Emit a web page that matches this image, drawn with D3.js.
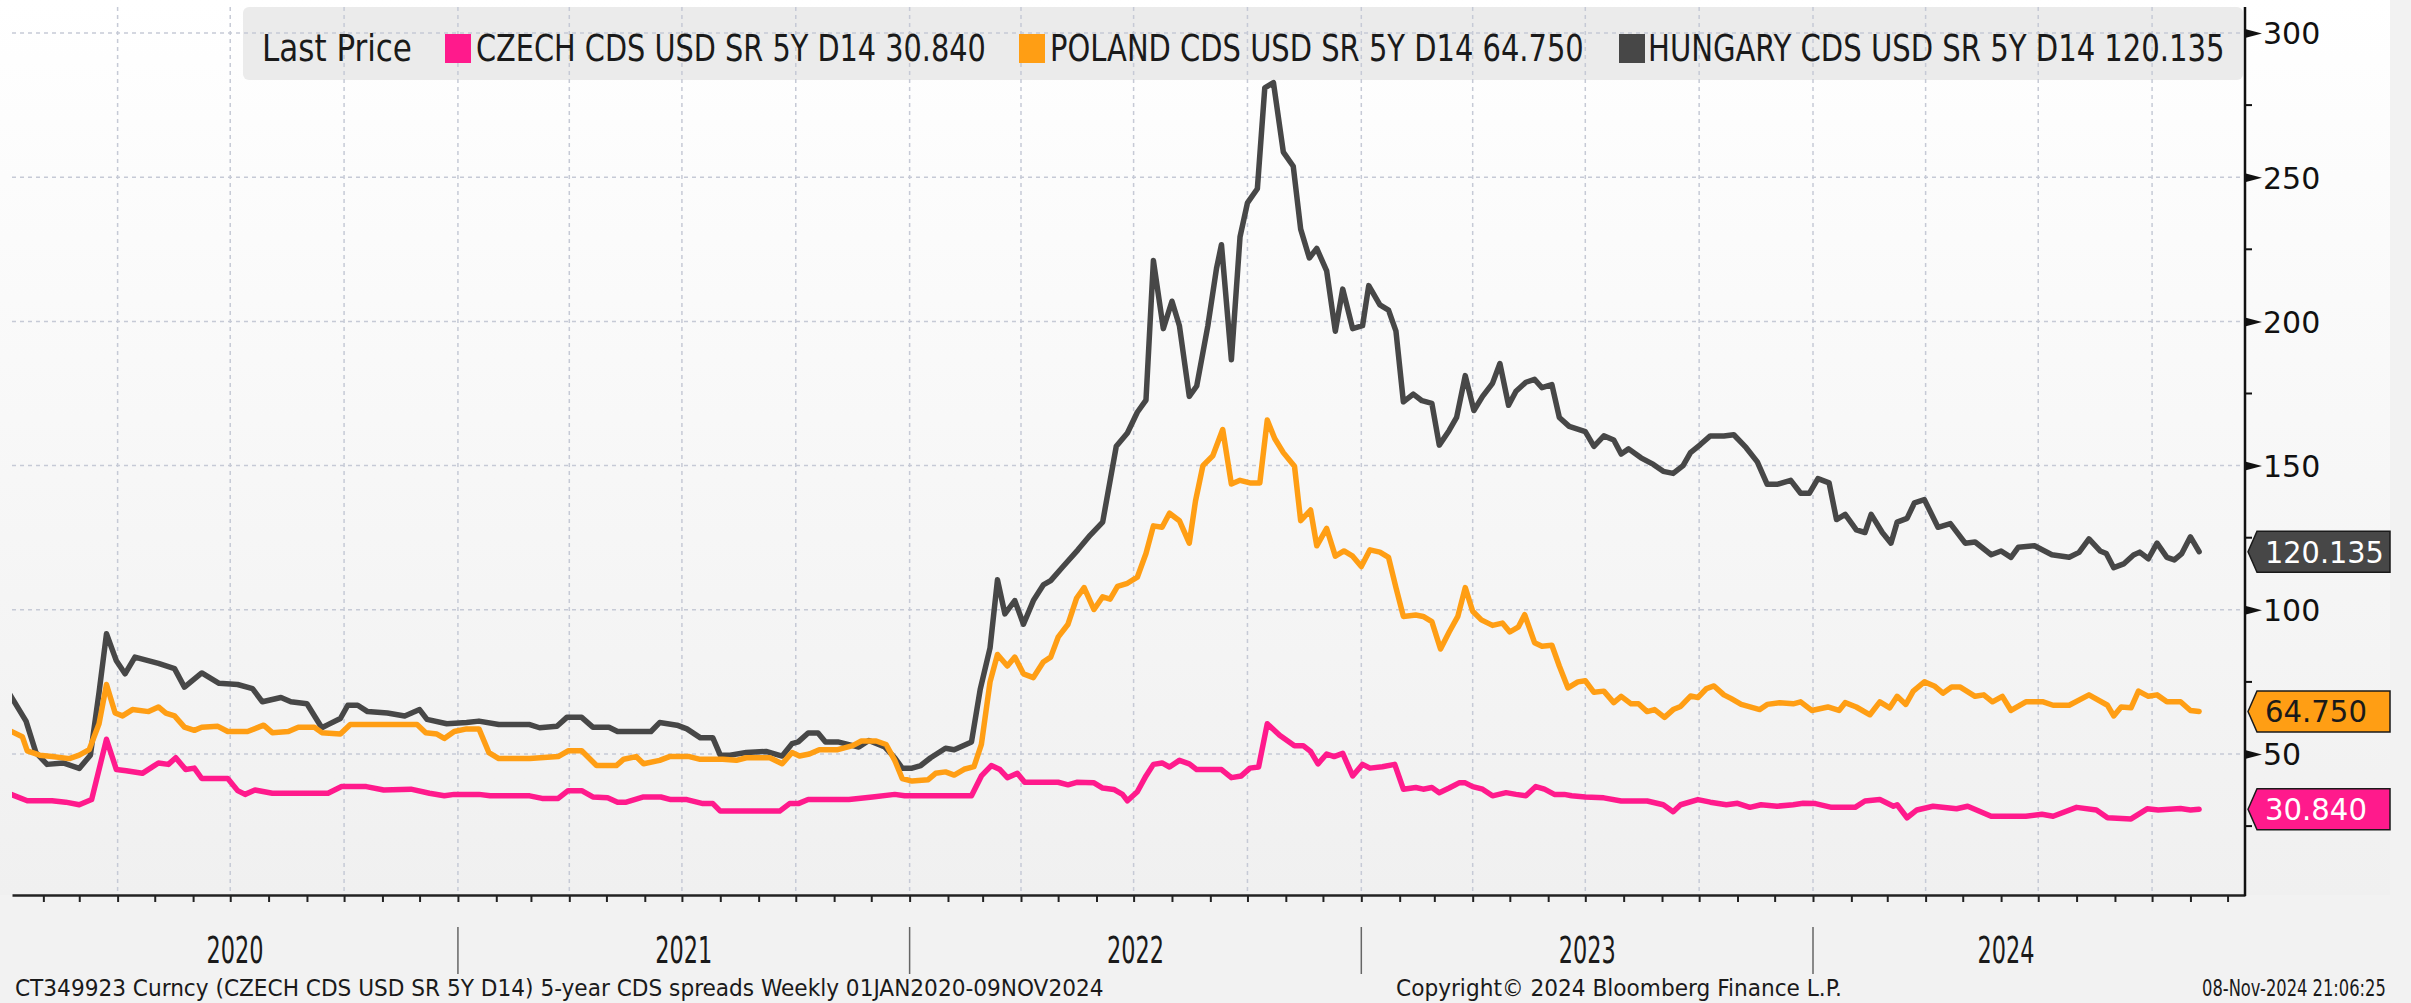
<!DOCTYPE html>
<html><head><meta charset="utf-8">
<script src="https://cdn.jsdelivr.net/npm/d3@7"></script>
<style>html,body{margin:0;padding:0;background:#f2f2f2;}svg{display:block;}</style>
</head><body>
<svg id="chart" width="2411" height="1003"></svg>
<script>
// ---------------- DATA ----------------
const czech = [["2020-01-03",36.5],["2020-01-19",33.8],["2020-02-08",33.8],["2020-02-19",33.3],["2020-03-01",32.4],["2020-03-11",34.2],["2020-03-23",55.1],["2020-03-31",44.6],["2020-04-08",44.2],["2020-04-21",43.3],["2020-05-04",46.9],["2020-05-12",46.4],["2020-05-18",48.7],["2020-05-26",44.6],["2020-06-02",45.1],["2020-06-08",41.5],["2020-06-29",41.5],["2020-07-07",37.3],["2020-07-13",36],["2020-07-21",37.5],["2020-08-04",36.4],["2020-09-18",36.4],["2020-09-29",38.7],["2020-10-19",38.7],["2020-11-02",37.5],["2020-11-24",37.8],["2020-12-09",36.4],["2020-12-21",35.5],["2020-12-29",36],["2021-01-18",36],["2021-01-27",35.5],["2021-02-28",35.5],["2021-03-10",34.6],["2021-03-23",34.6],["2021-03-31",37.3],["2021-04-11",37.3],["2021-04-20",35.1],["2021-05-02",34.8],["2021-05-10",33.3],["2021-05-17",33.3],["2021-05-31",35.1],["2021-06-14",35.1],["2021-06-22",34.2],["2021-07-05",34.2],["2021-07-18",32.8],["2021-07-26",32.8],["2021-08-01",30.2],["2021-09-18",30.2],["2021-09-26",32.8],["2021-10-03",32.8],["2021-10-11",34.2],["2021-11-13",34.2],["2021-12-02",35.1],["2021-12-20",36],["2021-12-28",35.5],["2022-02-20",35.5],["2022-02-28",42.4],["2022-03-08",46],["2022-03-15",44.6],["2022-03-21",41.8],["2022-03-29",43.3],["2022-04-04",40.2],["2022-05-01",40.2],["2022-05-09",39.3],["2022-05-16",40.2],["2022-05-30",40],["2022-06-06",38.2],["2022-06-15",37.7],["2022-06-22",36],["2022-06-26",33.8],["2022-07-04",36.9],["2022-07-11",42.4],["2022-07-17",46.4],["2022-07-24",46.9],["2022-07-30",45.5],["2022-08-07",47.8],["2022-08-15",46.6],["2022-08-21",44.6],["2022-09-10",44.6],["2022-09-18",41.8],["2022-09-26",42.4],["2022-10-03",45.1],["2022-10-10",45.5],["2022-10-17",60.5],["2022-10-27",56.5],["2022-11-08",52.9],["2022-11-15",52.9],["2022-11-21",50.9],["2022-11-27",46.6],["2022-12-04",50],["2022-12-10",49.1],["2022-12-17",50.2],["2022-12-25",42.4],["2023-01-02",46.4],["2023-01-08",45.1],["2023-01-18",45.6],["2023-01-28",46.4],["2023-02-04",37.8],["2023-02-14",38.4],["2023-02-20",37.8],["2023-02-27",38.4],["2023-03-05",36.6],["2023-03-13",38.2],["2023-03-21",40],["2023-03-26",40],["2023-04-01",38.7],["2023-04-09",37.8],["2023-04-17",35.5],["2023-04-28",36.6],["2023-05-06",36],["2023-05-14",35.5],["2023-05-22",38.7],["2023-05-29",37.8],["2023-06-06",36],["2023-06-14",36],["2023-06-20",35.5],["2023-07-01",35.1],["2023-07-16",34.8],["2023-07-30",33.7],["2023-08-20",33.7],["2023-09-02",32.4],["2023-09-10",30],["2023-09-16",32.4],["2023-09-30",34.2],["2023-10-10",33.3],["2023-10-23",32.4],["2023-11-01",32.9],["2023-11-11",31.5],["2023-11-20",32.4],["2023-12-03",31.9],["2023-12-16",32.4],["2023-12-24",32.9],["2024-01-03",32.8],["2024-01-16",31.5],["2024-02-04",31.5],["2024-02-12",33.7],["2024-02-24",34.2],["2024-03-06",31.9],["2024-03-09",32.4],["2024-03-17",27.9],["2024-03-25",30.6],["2024-04-07",31.9],["2024-04-26",31],["2024-05-05",31.9],["2024-05-24",28.4],["2024-06-21",28.4],["2024-07-04",29.1],["2024-07-13",28.4],["2024-08-01",31.5],["2024-08-17",30.6],["2024-08-26",27.9],["2024-09-14",27.5],["2024-09-27",31],["2024-10-06",30.6],["2024-10-24",31.1],["2024-11-01",30.6],["2024-11-08",30.84]];

const poland = [["2020-01-03",58.5],["2020-01-15",56],["2020-01-19",51.1],["2020-01-29",49.6],["2020-02-08",49.1],["2020-02-22",48.4],["2020-03-01",49.6],["2020-03-09",51.5],["2020-03-17",60.5],["2020-03-23",74.1],["2020-03-30",64.2],["2020-04-05",63.2],["2020-04-13",65.4],["2020-04-26",64.7],["2020-05-04",66.3],["2020-05-10",64.2],["2020-05-17",63.2],["2020-05-25",59.3],["2020-06-02",58.2],["2020-06-08",59.3],["2020-06-21",59.6],["2020-06-29",57.8],["2020-07-15",57.8],["2020-07-28",60],["2020-08-04",57.4],["2020-08-17",57.8],["2020-08-25",59.3],["2020-09-07",59.3],["2020-09-13",57.4],["2020-09-28",56.9],["2020-10-06",60.2],["2020-11-29",60.2],["2020-12-06",57.4],["2020-12-15",56.9],["2020-12-21",55.4],["2020-12-29",57.8],["2021-01-08",58.7],["2021-01-18",58.7],["2021-01-26",50.5],["2021-02-03",48.4],["2021-02-28",48.4],["2021-03-23",49.1],["2021-03-31",51.1],["2021-04-11",51.1],["2021-04-23",46],["2021-05-09",46],["2021-05-15",48.2],["2021-05-25",49.1],["2021-05-31",46.6],["2021-06-13",47.8],["2021-06-21",49.1],["2021-07-07",49.1],["2021-07-15",48.2],["2021-08-03",48.2],["2021-08-14",47.8],["2021-08-22",48.7],["2021-09-10",48.7],["2021-09-20",46.6],["2021-09-28",50.5],["2021-10-04",49.3],["2021-10-12",50],["2021-10-20",51.5],["2021-11-04",51.5],["2021-11-16",52.9],["2021-11-23",54.5],["2021-12-05",54.5],["2021-12-13",53.3],["2021-12-20",47.8],["2021-12-26",41.5],["2022-01-03",40.6],["2022-01-16",41.1],["2022-01-22",43.3],["2022-01-30",43.8],["2022-02-06",42.7],["2022-02-14",44.7],["2022-02-22",45.6],["2022-02-28",53.3],["2022-03-07",75],["2022-03-13",84.5],["2022-03-21",80.5],["2022-03-27",83.6],["2022-04-03",77.8],["2022-04-11",76.5],["2022-04-19",81.9],["2022-04-25",83.6],["2022-05-01",90.5],["2022-05-09",95],["2022-05-16",104.1],["2022-05-22",107.7],["2022-05-30",100.1],["2022-06-06",104.5],["2022-06-12",103.7],["2022-06-18",108.1],["2022-06-26",109.2],["2022-07-04",111.3],["2022-07-11",119.5],["2022-07-17",129.1],["2022-07-24",128.6],["2022-07-30",133.5],["2022-08-07",130.9],["2022-08-15",123.1],["2022-08-20",137.7],["2022-08-26",150],["2022-09-03",153.4],["2022-09-11",162.5],["2022-09-18",143.6],["2022-09-25",144.9],["2022-10-03",144],["2022-10-11",144],["2022-10-17",165.8],["2022-10-23",159.4],["2022-10-30",154.5],["2022-11-08",149.8],["2022-11-13",130.9],["2022-11-21",134.6],["2022-11-26",122.2],["2022-12-04",128.2],["2022-12-11",118.6],["2022-12-18",120.4],["2022-12-25",118.6],["2023-01-01",115],["2023-01-08",120.8],["2023-01-16",120],["2023-01-23",118.2],["2023-01-29",107.7],["2023-02-04",97.7],["2023-02-14",98.2],["2023-02-20",97.7],["2023-02-27",95.9],["2023-03-06",86.4],["2023-03-13",92.3],["2023-03-20",97.7],["2023-03-26",107.7],["2023-04-01",99.5],["2023-04-08",96.5],["2023-04-17",94.6],["2023-04-25",95.4],["2023-05-01",92.3],["2023-05-08",94.1],["2023-05-13",98.3],["2023-05-21",88.6],["2023-05-27",87.4],["2023-06-04",87.7],["2023-06-10",80.5],["2023-06-17",72.9],["2023-06-25",75],["2023-07-01",75.4],["2023-07-08",71.4],["2023-07-16",71.8],["2023-07-24",67.8],["2023-07-30",70],["2023-08-07",67.4],["2023-08-13",67.4],["2023-08-20",64.7],["2023-08-26",65.4],["2023-09-03",62.7],["2023-09-10",65.4],["2023-09-16",66.5],["2023-09-24",70.1],["2023-09-30",69.6],["2023-10-07",72.7],["2023-10-13",73.6],["2023-10-21",70.5],["2023-10-27",69.2],["2023-11-04",67.2],["2023-11-19",65.4],["2023-11-25",67.2],["2023-12-05",67.8],["2023-12-16",67.4],["2023-12-22",68.1],["2023-12-31",65.1],["2024-01-13",66.3],["2024-01-22",65.1],["2024-01-27",67.8],["2024-02-05",66.3],["2024-02-16",63.6],["2024-02-24",68.1],["2024-03-03",66],["2024-03-09",70],["2024-03-16",67.2],["2024-03-22",71.8],["2024-03-31",75],["2024-04-08",73.6],["2024-04-15",71.1],["2024-04-22",73.2],["2024-04-29",73.2],["2024-05-11",70],["2024-05-18",70.5],["2024-05-25",68.1],["2024-06-02",70],["2024-06-09",65.1],["2024-06-21",68.1],["2024-07-05",68.1],["2024-07-13",66.9],["2024-07-26",66.9],["2024-08-11",70.5],["2024-08-26",66.9],["2024-08-31",63.2],["2024-09-06",66.3],["2024-09-14",66],["2024-09-20",71.8],["2024-09-28",70],["2024-10-05",70.5],["2024-10-13",68.1],["2024-10-24",68.1],["2024-11-01",65.1],["2024-11-08",64.75]];

const hungary = [["2020-01-03",72],["2020-01-18",61.4],["2020-01-26",50.5],["2020-02-04",46.4],["2020-02-17",46.9],["2020-03-01",45],["2020-03-10",49.6],["2020-03-17",71.4],["2020-03-23",91.7],["2020-03-31",82.3],["2020-04-07",77.8],["2020-04-15",83.6],["2020-05-04",81.4],["2020-05-17",79.6],["2020-05-25",73.2],["2020-06-08",78.1],["2020-06-22",74.5],["2020-07-07",74.1],["2020-07-19",72.7],["2020-07-27",68.1],["2020-08-11",69.6],["2020-08-19",68.1],["2020-09-01",67.4],["2020-09-13",59.1],["2020-09-18",60.2],["2020-09-28",62.3],["2020-10-04",66.9],["2020-10-12",66.9],["2020-10-20",64.7],["2020-11-05",64.2],["2020-11-19",63.2],["2020-12-01",65.4],["2020-12-07",62],["2020-12-23",60.5],["2021-01-08",60.9],["2021-01-18",61.4],["2021-02-03",60.2],["2021-02-28",60.2],["2021-03-08",59.1],["2021-03-22",59.6],["2021-03-30",62.7],["2021-04-11",62.7],["2021-04-20",59.3],["2021-05-03",59.3],["2021-05-10",57.8],["2021-06-06",57.8],["2021-06-13",60.9],["2021-06-27",60],["2021-07-05",58.7],["2021-07-16",55.6],["2021-07-26",55.6],["2021-08-01",49.6],["2021-08-09",49.6],["2021-08-22",50.5],["2021-09-07",50.9],["2021-09-20",49.3],["2021-09-28",53.6],["2021-10-03",54.2],["2021-10-11",57.3],["2021-10-19",57.3],["2021-10-25",54.2],["2021-11-04",54.2],["2021-11-21",52.4],["2021-11-29",54.7],["2021-12-12",52.4],["2021-12-20",48.7],["2021-12-26",45.1],["2022-01-03",45.1],["2022-01-10",46],["2022-01-18",48.7],["2022-01-30",52],["2022-02-06",51.5],["2022-02-20",54.2],["2022-02-27",72.3],["2022-03-07",86.8],["2022-03-13",110.4],["2022-03-19",98.6],["2022-03-27",103.2],["2022-04-03",95],["2022-04-11",103.2],["2022-04-19",108.6],["2022-04-25",110.1],["2022-05-05",115],["2022-05-17",120.8],["2022-05-27",125.9],["2022-06-06",130.4],["2022-06-17",156.7],["2022-06-26",161.3],["2022-07-04",168.5],["2022-07-11",172.7],["2022-07-17",221.1],["2022-07-25",197.5],["2022-08-01",207],["2022-08-07",198.5],["2022-08-15",174],["2022-08-21",177.6],["2022-08-30",198.5],["2022-09-06",218.4],["2022-09-10",226.6],["2022-09-18",186.7],["2022-09-25",229.3],["2022-10-01",241.1],["2022-10-09",246],["2022-10-15",281],["2022-10-22",282.8],["2022-10-30",258.7],["2022-11-07",253.8],["2022-11-13",232],["2022-11-20",222],["2022-11-26",225.3],["2022-12-04",217.5],["2022-12-11",196.6],["2022-12-17",211.2],["2022-12-25",197.5],["2023-01-02",198.5],["2023-01-07",212.4],["2023-01-16",205.7],["2023-01-23",203.9],["2023-01-29",196.6],["2023-02-04",172.1],["2023-02-12",174.8],["2023-02-19",172.5],["2023-02-27",171.6],["2023-03-05",157.1],["2023-03-13",162.2],["2023-03-19",166.7],["2023-03-26",181.2],["2023-04-02",169.1],["2023-04-09",174],["2023-04-17",178.5],["2023-04-23",185.4],["2023-04-30",170.9],["2023-05-06",175.8],["2023-05-14",178.9],["2023-05-21",179.9],["2023-05-27",177],["2023-06-04",178.1],["2023-06-10",166.7],["2023-06-18",163.6],["2023-07-01",161.8],["2023-07-08",156.7],["2023-07-16",160.3],["2023-07-24",158.9],["2023-07-30",154],["2023-08-05",155.8],["2023-08-15",152.7],["2023-08-25",150.4],["2023-09-02",148],["2023-09-10",147.3],["2023-09-18",150],["2023-09-24",154.5],["2023-10-02",157.3],["2023-10-10",160.3],["2023-10-21",160.3],["2023-10-29",160.7],["2023-11-08",156.2],["2023-11-17",151.3],["2023-11-25",143.5],["2023-12-03",143.5],["2023-12-14",144.9],["2023-12-22",140.4],["2023-12-29",140.4],["2024-01-05",145.5],["2024-01-14",144],["2024-01-20",131.3],["2024-01-27",133.1],["2024-02-05",127.7],["2024-02-12",126.8],["2024-02-17",133.1],["2024-02-26",126.8],["2024-03-04",123.1],["2024-03-09",130.4],["2024-03-17",131.7],["2024-03-23",137.1],["2024-03-31",138.2],["2024-04-11",128.6],["2024-04-21",129.9],["2024-05-03",123.1],["2024-05-11",123.5],["2024-05-24",119.1],["2024-06-01",120.4],["2024-06-09",118.2],["2024-06-15",121.7],["2024-06-28",122.2],["2024-07-12",119.1],["2024-07-26",118.2],["2024-08-03",119.9],["2024-08-11",124.6],["2024-08-20",120.4],["2024-08-25",119.5],["2024-08-31",114.6],["2024-09-08",115.9],["2024-09-16",119],["2024-09-21",120],["2024-09-28",117.7],["2024-10-05",123.1],["2024-10-13",118.2],["2024-10-19",117.3],["2024-10-25",119.5],["2024-11-01",125.3],["2024-11-08",120.135]];

const seriesNames = ["CZECH CDS USD SR 5Y D14", "POLAND CDS USD SR 5Y D14", "HUNGARY CDS USD SR 5Y D14"];
const lastLabels = ["30.840", "64.750", "120.135"];
const legendTitle = "Last Price";
const yTicks = [50, 100, 150, 200, 250, 300];
const yMinorTicks = [25, 75, 125, 175, 225, 275];
const yearLabels = ["2020", "2021", "2022", "2023", "2024"];
const footerLeft = "CT349923 Curncy (CZECH CDS USD SR 5Y D14) 5-year CDS spreads  Weekly 01JAN2020-09NOV2024";
const footerMid = "Copyright\u00A9 2024 Bloomberg Finance L.P.";
const footerRight = "08-Nov-2024 21:06:25";

// ---------------- STYLE ----------------
const colors = ["#ff1a8c", "#ff9e14", "#474747"];
const labelText = ["#ffffff", "#1a1a1a", "#ffffff"];
const condFont = "'Liberation Sans Narrow','DejaVu Sans Condensed','Liberation Sans',sans-serif";
const axFont = "'DejaVu Sans','Liberation Sans',sans-serif";
const P = {left: 12, right: 2245, top: 7, bottom: 895};

const svg = d3.select("#chart");
const parse = d3.utcParse("%Y-%m-%d");

const xBase = d3.scaleUtc().domain([parse("2020-01-01"), parse("2024-01-01")]).range([5, 1813]);
const x = xBase.copy().domain([xBase.invert(P.left), xBase.invert(P.right)]).range([P.left, P.right]);
const y = d3.scaleLinear().domain([0, 300]).range([898.2, 33]);

// text helper: draws text, then squeezes it horizontally to a target width
function fitText(g, str, x0, yb, width, size, font, fill, anchor) {
  const t = g.append("text").attr("font-family", font).attr("font-size", size).attr("fill", fill).text(str);
  const nat = t.node().getComputedTextLength();
  const k = width / nat;
  const xl = anchor === "middle" ? x0 - width / 2 : x0;
  t.attr("transform", `translate(${xl},${yb}) scale(${k},1)`);
  return t;
}

const defs = svg.append("defs");
const grad = defs.append("linearGradient").attr("id", "bg").attr("x1", 0).attr("y1", 0).attr("x2", 0).attr("y2", 1);
grad.append("stop").attr("offset", "0%").attr("stop-color", "#ffffff");
grad.append("stop").attr("offset", "100%").attr("stop-color", "#f0f0f0");
defs.append("clipPath").attr("id", "clip").append("rect")
  .attr("x", P.left).attr("y", P.top).attr("width", P.right - P.left).attr("height", P.bottom - P.top);

svg.append("rect").attr("width", 2411).attr("height", 1003).attr("fill", "#f2f2f2");
svg.append("rect").attr("x", 0).attr("y", 0).attr("width", 2390).attr("height", P.bottom).attr("fill", "url(#bg)");

// legend box (under gridlines)
svg.append("rect").attr("x", 243).attr("y", 7).attr("width", 2000).attr("height", 73).attr("rx", 6)
  .attr("fill", "#ebebeb");

// gridlines
const grid = svg.append("g").attr("stroke", "#c6cad6").attr("stroke-width", 1.5).attr("stroke-dasharray", "4,4");
grid.selectAll(".h").data(yTicks).join("line")
  .attr("x1", P.left).attr("x2", P.right).attr("y1", d => y(d)).attr("y2", d => y(d));
grid.selectAll(".v").data(d3.utcMonth.every(3).range(x.domain()[0], x.domain()[1])).join("line")
  .attr("x1", d => x(d)).attr("x2", d => x(d)).attr("y1", P.top).attr("y2", P.bottom);

// lines
const line = d3.line().x(d => x(parse(d[0]))).y(d => y(d[1])).curve(d3.curveLinear);
const lg = svg.append("g").attr("clip-path", "url(#clip)");
[[hungary, 2], [poland, 1], [czech, 0]].forEach(([data, i]) => {
  lg.append("path").datum(data).attr("d", line).attr("fill", "none")
    .attr("stroke", colors[i]).attr("stroke-width", 5.5)
    .attr("stroke-linejoin", "round").attr("stroke-linecap", "round");
});

// legend text
const legend = svg.append("g");
fitText(legend, legendTitle, 262, 61, 150, 38, condFont, "#1a1a1a");
const legItems = [{sx: 445, tx: 476, w: 510}, {sx: 1019, tx: 1050, w: 534}, {sx: 1619, tx: 1648, w: 577}];
legItems.forEach((it, i) => {
  legend.append("rect").attr("x", it.sx).attr("y", 34).attr("width", 26).attr("height", 29).attr("fill", colors[i]);
  fitText(legend, seriesNames[i] + " " + lastLabels[i], it.tx, 61, it.w, 38, condFont, "#1a1a1a");
});

// x axis
const xAxis = d3.axisBottom(x).ticks(d3.utcMonth.every(1)).tickSize(7).tickSizeOuter(0).tickFormat("");
const xg = svg.append("g").attr("transform", `translate(0,${P.bottom})`).call(xAxis);
xg.select(".domain").attr("stroke", "#222").attr("stroke-width", 2.5);
xg.selectAll(".tick line").attr("stroke", "#222").attr("stroke-width", 2);

// y axis
const yAxis = d3.axisRight(y).tickValues(yTicks).tickSize(0).tickPadding(18).tickSizeOuter(0).tickFormat(d3.format("d"));
const yg = svg.append("g").attr("transform", `translate(${P.right},0)`).call(yAxis);
yg.select(".domain").remove();
yg.selectAll(".tick text").attr("font-family", axFont).attr("font-size", 30).attr("fill", "#111").attr("dy", "0.36em");
yg.selectAll(".tick").append("path").attr("d", "M0,-4.5L17,0L0,4.5Z").attr("fill", "#111");
svg.append("line").attr("x1", P.right).attr("x2", P.right).attr("y1", P.top).attr("y2", P.bottom + 1)
  .attr("stroke", "#111").attr("stroke-width", 2.5);
svg.append("g").selectAll("line").data(yMinorTicks).join("line")
  .attr("x1", P.right).attr("x2", P.right + 7).attr("y1", d => y(d)).attr("y2", d => y(d))
  .attr("stroke", "#111").attr("stroke-width", 2);

// last value tags
const lastVals = [czech, poland, hungary].map(s => s[s.length - 1][1]);
const tags = svg.append("g");
lastVals.forEach((v, i) => {
  const cy = y(v);
  tags.append("path")
    .attr("d", `M${P.right + 3},${cy}L${P.right + 12},${cy - 20.5}L2390,${cy - 20.5}L2390,${cy + 20.5}L${P.right + 12},${cy + 20.5}Z`)
    .attr("fill", colors[i]).attr("stroke", "#1a1a1a").attr("stroke-width", 1.5);
  fitText(tags, lastLabels[i], P.right + 20, cy + 11, lastLabels[i].length * 17, 30, axFont, labelText[i]);
});

// year labels and separators
const last = parse(czech[czech.length - 1][0]);
const yearG = svg.append("g");
yearLabels.forEach((s, i) => {
  const yr = +s;
  const x0 = Math.max(P.left, x(new Date(Date.UTC(yr, 0, 1))));
  const x1 = Math.min(x(new Date(Date.UTC(yr + 1, 0, 1))), x(last));
  fitText(yearG, s, (x0 + x1) / 2, 963, 57, 38, condFont, "#1a1a1a", "middle");
  if (i > 0) {
    const xs = x(new Date(Date.UTC(yr, 0, 1)));
    yearG.append("line").attr("x1", xs).attr("x2", xs).attr("y1", 927).attr("y2", 974)
      .attr("stroke", "#666").attr("stroke-width", 1.5);
  }
});

// footer
const foot = svg.append("g");
fitText(foot, footerLeft, 15, 996, 1089, 23, condFont, "#1a1a1a");
fitText(foot, footerMid, 1396, 996, 446, 23, condFont, "#1a1a1a");
fitText(foot, footerRight, 2202, 996, 184, 23, condFont, "#1a1a1a");
</script>
</body></html>
